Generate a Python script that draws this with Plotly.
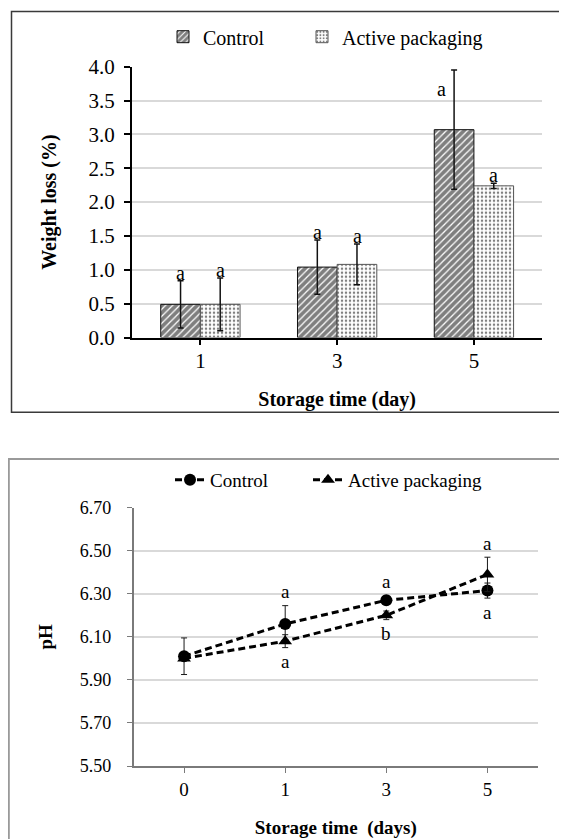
import plotly.graph_objects as go

# The page body keeps the browser's default 8px margin, so the figure is drawn
# 8px in from the top-left corner of the window; sizes and positions below are
# expressed in window pixels and converted with that offset.
OFF = 8
WIN_W, WIN_H = 567, 839
W, H = WIN_W - OFF, WIN_H - OFF

# ---------- data: weight loss ----------
wl_days = ["1", "3", "5"]
wl_control = [0.49, 1.04, 3.07]
wl_control_err = [0.35, 0.40, 0.88]
wl_active = [0.49, 1.08, 2.24]
wl_active_err = [0.39, 0.30, 0.04]
wl_control_letters = ["a", "a", "a"]
wl_active_letters = ["a", "a", "a"]

# ---------- data: pH ----------
ph_days = ["0", "1", "3", "5"]
ph_control = [6.01, 6.16, 6.27, 6.315]
ph_control_err = [0.085, 0.085, 0.02, 0.035]
ph_active = [6.00, 6.08, 6.20, 6.39]
ph_active_err = [0.01, 0.03, 0.02, 0.08]
ph_control_letters = ["", "a", "a", "a"]
ph_active_letters = ["", "a", "b", "a"]
ph_ticks = [5.50, 5.70, 5.90, 6.10, 6.30, 6.50, 6.70]

FONT = "Liberation Serif"


def px_x(p):
    return (p - OFF) / W


def px_y(p):
    return 1 - (p - OFF) / H


fig = go.Figure()

# ---------- top: bars ----------
fig.add_trace(go.Bar(
    x=wl_days, y=wl_control, name="Control",
    error_y=dict(type="data", array=wl_control_err, color="#111111", thickness=1.5, width=3),
    marker=dict(color="white",
                pattern=dict(shape="/", fgcolor="black", bgcolor="white", size=5, solidity=0.75),
                line=dict(color="#111111", width=1)),
    xaxis="x", yaxis="y", legend="legend",
))
fig.add_trace(go.Bar(
    x=wl_days, y=wl_active, name="Active packaging",
    error_y=dict(type="data", array=wl_active_err, color="#111111", thickness=1.5, width=3),
    marker=dict(color="white",
                pattern=dict(shape=".", fgcolor="black", bgcolor="white", size=4, solidity=0.3),
                line=dict(color="#555555", width=1)),
    xaxis="x", yaxis="y", legend="legend3",
))

# ---------- bottom: lines ----------
fig.add_trace(go.Scatter(
    x=ph_days, y=ph_control, name="Control", mode="lines+markers",
    line=dict(color="black", width=3, dash="7px,4px"),
    marker=dict(symbol="circle", size=12, color="black"),
    error_y=dict(type="data", array=ph_control_err, color="#1a1a1a", thickness=1, width=3),
    xaxis="x2", yaxis="y2", legend="legend2",
))
fig.add_trace(go.Scatter(
    x=ph_days, y=ph_active, name="Active packaging", mode="lines+markers",
    line=dict(color="black", width=3, dash="7px,4px"),
    marker=dict(symbol="triangle-up", size=12, color="black"),
    error_y=dict(type="data", array=ph_active_err, color="#1a1a1a", thickness=1, width=3),
    xaxis="x2", yaxis="y2", legend="legend4",
))

annotations = []
# letters on weight-loss bars (placed just above each error bar); x given as category index
for i in range(len(wl_days)):
    for vals, errs, letters, xs in ((wl_control, wl_control_err, wl_control_letters, -20),
                                    (wl_active, wl_active_err, wl_active_letters, 20)):
        top = vals[i] + errs[i]
        xshift, yshift = xs, 8
        if errs[i] > 0.6:  # tall error bar: letter sits beside it
            xshift, yshift = xs - 12, -19
        annotations.append(dict(x=i, y=top, xref="x", yref="y", text=letters[i], showarrow=False,
                                xshift=xshift, yshift=yshift, yanchor="middle",
                                font=dict(family=FONT, size=20, color="black")))

# letters on pH points: higher series above, lower series below
for i in range(len(ph_days)):
    pairs = ((ph_control, ph_control_err, ph_control_letters, ph_active),
             (ph_active, ph_active_err, ph_active_letters, ph_control))
    for vals, errs, letters, other in pairs:
        if not letters[i]:
            continue
        above = vals[i] >= other[i]
        y = vals[i] + errs[i] if above else vals[i] - errs[i]
        annotations.append(dict(x=i, y=y, xref="x2", yref="y2", text=letters[i], showarrow=False,
                                yshift=14 if above else -14, yanchor="middle",
                                font=dict(family=FONT, size=19, color="black")))

shapes = [
    dict(type="rect", xref="paper", yref="paper", x0=px_x(11.5), x1=px_x(590), y0=px_y(412.3), y1=px_y(11.5),
         line=dict(color="#3a3a3a", width=1.5), fillcolor="rgba(0,0,0,0)", layer="below"),
    dict(type="rect", xref="paper", yref="paper", x0=px_x(8.8), x1=px_x(590), y0=px_y(880), y1=px_y(459),
         line=dict(color="#9a9a9a", width=2), fillcolor="rgba(0,0,0,0)", layer="below"),
]

tick_font = dict(family=FONT, size=21, color="black")
title_font = dict(family=FONT, size=20, color="black", weight="bold")
leg_common = dict(orientation="h", xanchor="left", yanchor="middle", bgcolor="rgba(0,0,0,0)",
                  traceorder="normal")

fig.update_layout(
    width=W, height=H,
    margin=dict(l=0, r=0, t=0, b=0, autoexpand=False),
    paper_bgcolor="white", plot_bgcolor="white",
    barmode="group", bargap=0.42, bargroupgap=0,
    font=dict(family=FONT, color="black"),
    xaxis=dict(domain=[px_x(132), px_x(542.3)], anchor="y", type="category", range=[-0.5, 2.5],
               automargin=False,
               showline=True, linecolor="black", linewidth=2,
               ticks="outside", ticklen=5, tickwidth=1.5, tickcolor="black",
               tickfont=tick_font, showgrid=False, ticklabelstandoff=-2,
               title=dict(text="Storage time (day)", font=title_font, standoff=20)),
    yaxis=dict(domain=[px_y(337.5), px_y(66.7)], anchor="x", range=[0, 4], dtick=0.5, tickformat=".1f",
               automargin=False,
               showline=True, linecolor="black", linewidth=2, zeroline=False,
               ticks="outside", ticklen=6, tickwidth=1.5, tickcolor="black",
               showgrid=True, gridcolor="#d9d9d9", gridwidth=1.5,
               tickfont=tick_font, ticklabelstandoff=5,
               title=dict(text="Weight loss (%)", font=title_font, standoff=27)),
    xaxis2=dict(domain=[px_x(133.5), px_x(538)], anchor="y2", type="category", range=[-0.5, 3.5],
                automargin=False,
                showline=True, linecolor="#7a7a7a", linewidth=1.5,
                ticks="outside", ticklen=5, tickwidth=1.2, tickcolor="#7a7a7a",
                tickfont=dict(family=FONT, size=19, color="black"), showgrid=False, ticklabelstandoff=0,
                title=dict(text="Storage time  (days)", font=dict(family=FONT, size=19, color="black", weight="bold"),
                           standoff=22)),
    yaxis2=dict(domain=[px_y(766), px_y(507.7)], anchor="x2", range=[5.5, 6.7],
                automargin=False,
                tickmode="array", tickvals=ph_ticks, tickformat=".2f",
                showline=True, linecolor="#7a7a7a", linewidth=1.5, zeroline=False,
                ticks="outside", ticklen=5, tickwidth=1.2, tickcolor="#7a7a7a",
                showgrid=False,
                minor=dict(tickmode="array", tickvals=ph_ticks[1:-1], showgrid=True,
                           gridcolor="#d9d9d9", gridwidth=1.5, ticks=""),
                tickfont=dict(family=FONT, size=18, color="black"), ticklabelstandoff=12,
                title=dict(text="pH", font=dict(family=FONT, size=19, color="black", weight="bold"),
                           standoff=22)),
    legend=dict(x=px_x(163), y=px_y(36.7), font=dict(family=FONT, size=20, color="black"), **leg_common),
    legend3=dict(x=px_x(302), y=px_y(36.7), font=dict(family=FONT, size=20, color="black"), **leg_common),
    legend2=dict(x=px_x(170), y=px_y(480), font=dict(family=FONT, size=19, color="black"), **leg_common),
    legend4=dict(x=px_x(308), y=px_y(480), font=dict(family=FONT, size=19, color="black"), **leg_common),
    annotations=annotations,
    shapes=shapes,
    showlegend=True,
)

fig.write_html("out.html")
